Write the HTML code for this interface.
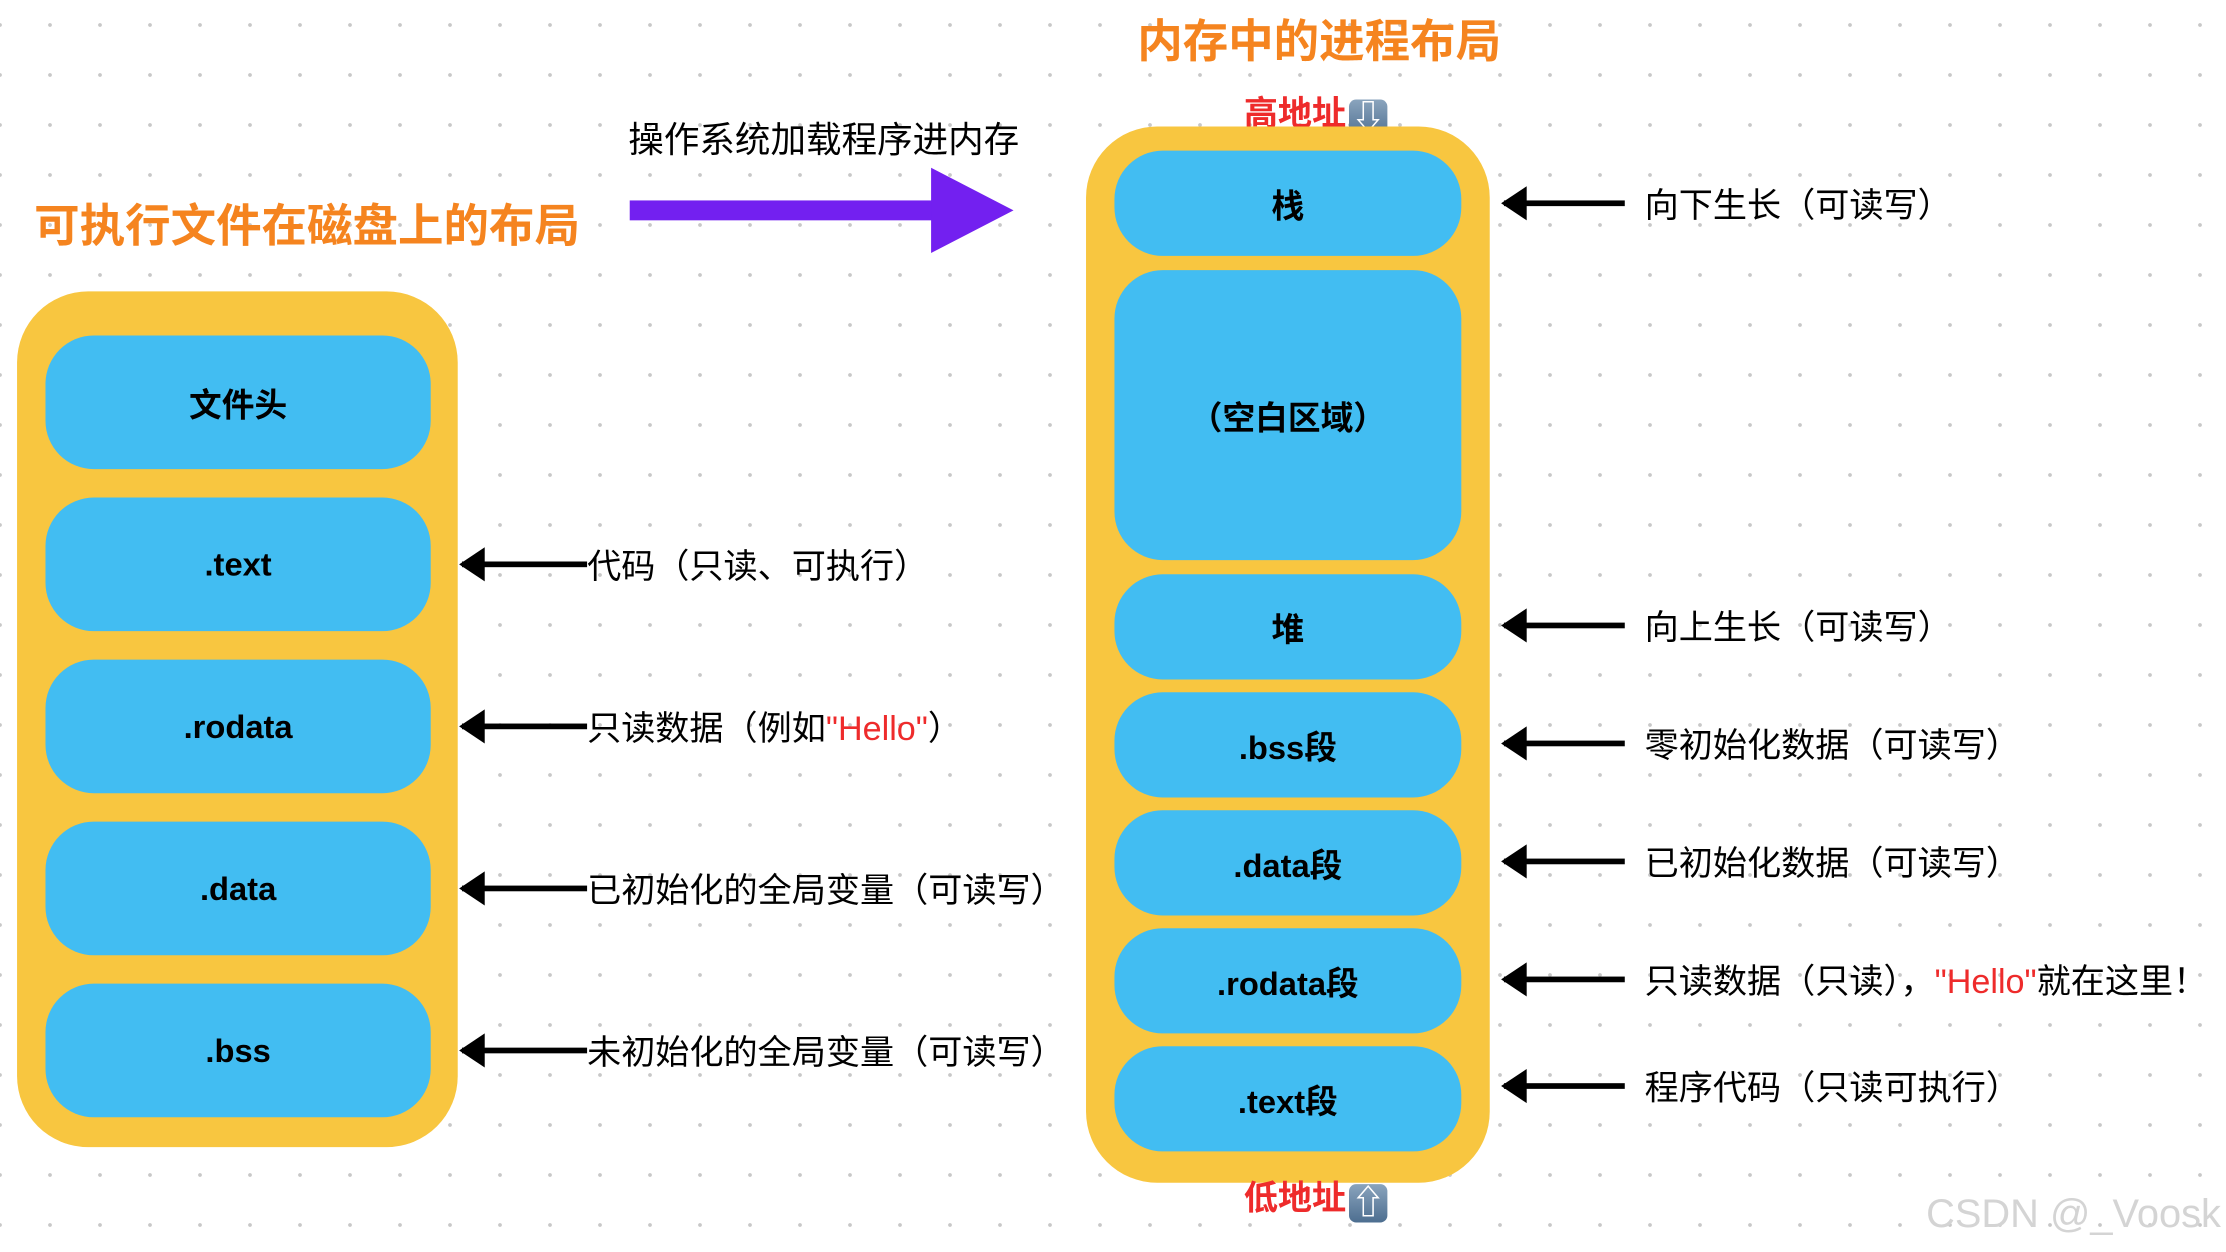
<!DOCTYPE html>
<html><head><meta charset="utf-8"><style>
html,body{margin:0;padding:0;}
body{width:2226px;height:1252px;overflow:hidden;background:#fff;position:relative;
background-image:radial-gradient(circle,#c8c8c8 1.6px,transparent 2.2px);
background-size:50px 50px;background-position:-25px 0px;}
#w{position:absolute;left:0;top:0;width:1566px;height:881px;transform:scale(1.4215);transform-origin:0 0;
font-family:"Liberation Sans","Noto Sans CJK SC",sans-serif;}
.a{position:absolute;}
.t{position:absolute;white-space:nowrap;}
.org{color:#f5841f;font-weight:bold;font-size:32px;}
.y{position:absolute;background:#f8c640;}
.b{position:absolute;background:#42bdf2;border-radius:34px;display:flex;align-items:center;justify-content:center;font-weight:bold;font-size:23px;color:#000;}
.ar{position:absolute;height:4px;background:#000;}
.ar:before{content:"";position:absolute;left:-2px;top:-10px;border-right:18px solid #000;border-top:12px solid transparent;border-bottom:12px solid transparent;}
.lbl{position:absolute;font-size:24px;white-space:nowrap;transform:translateY(-50%);}
.red{color:#ee2b2b;}
.em{display:inline-block;width:27px;height:27px;border-radius:5px;background:linear-gradient(#8aa4bd,#4d6e90);color:#fff;font-size:24px;line-height:27px;text-align:center;vertical-align:-3px;font-weight:bold;margin-left:2px;}
</style></head><body><div id="w">
<div class="t org" style="left:24px;top:134px;">可执行文件在磁盘上的布局</div>
<div class="t" style="left:442px;top:79px;font-size:25px;">操作系统加载程序进内存</div>
<div class="a" style="left:443px;top:141px;width:214px;height:14px;background:#7320f0;"></div>
<div class="a" style="left:655px;top:118px;width:0;height:0;border-left:58px solid #7320f0;border-top:30px solid transparent;border-bottom:30px solid transparent;"></div>

<div class="y" style="left:12px;top:205px;width:310px;height:602px;border-radius:50px;"></div>
<div class="b" style="left:32px;top:236px;width:271px;height:94px;">文件头</div>
<div class="b" style="left:32px;top:350px;width:271px;height:94px;">.text</div>
<div class="b" style="left:32px;top:464px;width:271px;height:94px;">.rodata</div>
<div class="b" style="left:32px;top:578px;width:271px;height:94px;">.data</div>
<div class="b" style="left:32px;top:692px;width:271px;height:94px;">.bss</div>

<div class="ar" style="left:325px;top:395px;width:88px;"></div>
<div class="ar" style="left:325px;top:509px;width:88px;"></div>
<div class="ar" style="left:325px;top:623px;width:88px;"></div>
<div class="ar" style="left:325px;top:737px;width:88px;"></div>
<div class="lbl" style="left:413px;top:396px;">代码（只读、可执行）</div>
<div class="lbl" style="left:413px;top:510px;">只读数据（例如<span class="red">"Hello"</span>）</div>
<div class="lbl" style="left:413px;top:624px;">已初始化的全局变量（可读写）</div>
<div class="lbl" style="left:413px;top:738px;">未初始化的全局变量（可读写）</div>

<div class="t org" style="left:800px;top:4px;">内存中的进程布局</div>
<div class="t red" style="left:875px;top:60px;font-size:24px;font-weight:bold;">高地址<span class="em">⇩</span></div>
<div class="y" style="left:764px;top:89px;width:284px;height:743px;border-radius:50px;"></div>
<div class="b" style="left:784px;top:106px;width:244px;height:74px;">栈</div>
<div class="b" style="left:784px;top:190px;width:244px;height:204px;">（空白区域）</div>
<div class="b" style="left:784px;top:404px;width:244px;height:74px;">堆</div>
<div class="b" style="left:784px;top:487px;width:244px;height:74px;">.bss段</div>
<div class="b" style="left:784px;top:570px;width:244px;height:74px;">.data段</div>
<div class="b" style="left:784px;top:653px;width:244px;height:74px;">.rodata段</div>
<div class="b" style="left:784px;top:736px;width:244px;height:74px;">.text段</div>
<div class="t red" style="left:875px;top:823px;font-size:24px;font-weight:bold;">低地址<span class="em">⇧</span></div>

<div class="ar" style="left:1058px;top:141px;width:85px;"></div>
<div class="ar" style="left:1058px;top:438px;width:85px;"></div>
<div class="ar" style="left:1058px;top:521px;width:85px;"></div>
<div class="ar" style="left:1058px;top:604px;width:85px;"></div>
<div class="ar" style="left:1058px;top:687px;width:85px;"></div>
<div class="ar" style="left:1058px;top:762px;width:85px;"></div>
<div class="lbl" style="left:1157px;top:142px;">向下生长（可读写）</div>
<div class="lbl" style="left:1157px;top:439px;">向上生长（可读写）</div>
<div class="lbl" style="left:1157px;top:522px;">零初始化数据（可读写）</div>
<div class="lbl" style="left:1157px;top:605px;">已初始化数据（可读写）</div>
<div class="lbl" style="left:1157px;top:688px;">只读数据（只读），<span class="red">"Hello"</span>就在这里！</div>
<div class="lbl" style="left:1157px;top:763px;">程序代码（只读可执行）</div>

<div class="t" style="left:1355px;top:838px;font-size:28px;color:#d4d4d4;">CSDN @_Voosk</div>
</div></body></html>
